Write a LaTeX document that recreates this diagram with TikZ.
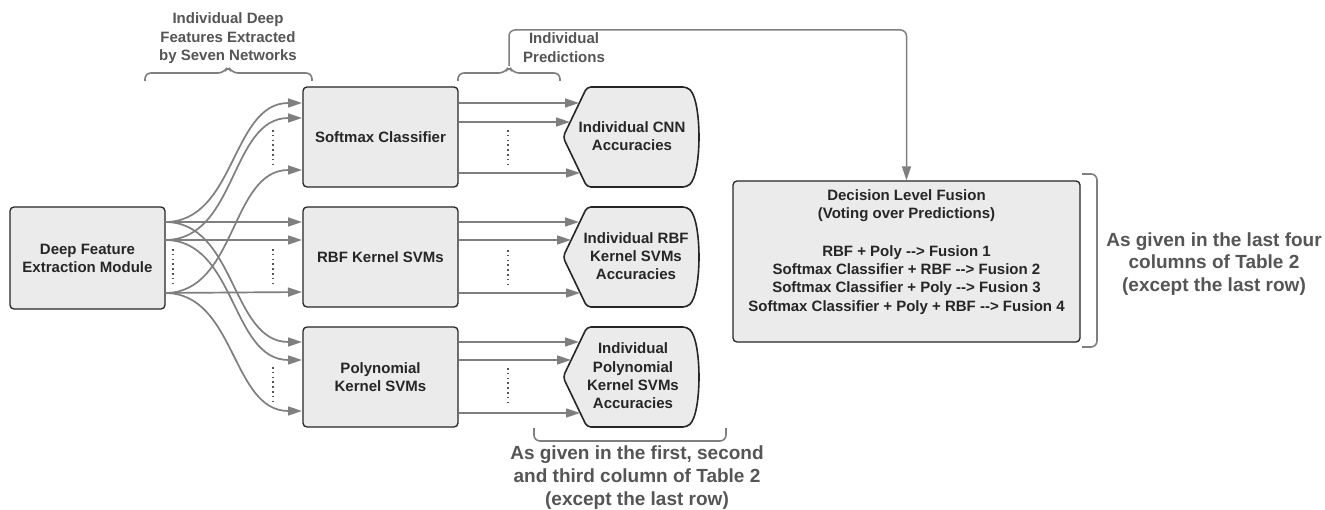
\documentclass[tikz,border=0pt]{standalone}
\usepackage{fontspec}
\setmainfont{Liberation Sans}
\usetikzlibrary{arrows.meta}
\definecolor{boxfill}{HTML}{EBEBEB}
\definecolor{boxline}{HTML}{262626}
\definecolor{arrgray}{HTML}{7F7F7F}
\definecolor{labgray}{HTML}{555555}
\definecolor{dotgray}{HTML}{555555}
\newcommand\arrowtxt{-\kern0pt-\kern0pt>}
\begin{document}
\begin{tikzpicture}[x=1pt,y=-1pt,
  box/.style={draw=boxline, fill=boxfill, line width=1.3pt, rounded corners=4pt,
    minimum width=155pt, minimum height=100pt, align=center, inner sep=0pt,
    font=\bfseries\fontsize{15}{18}\selectfont, text=black!85},
  shapebox/.style={draw=boxline, fill=boxfill, line width=1.6pt, rounded corners=4pt},
  intext/.style={align=center, inner sep=0pt, font=\bfseries\fontsize{15}{18.3}\selectfont, text=black!85},
  arr/.style={draw=arrgray, line width=1.7pt, -{Triangle[length=14pt,width=9pt]}},
  brace/.style={draw=arrgray, line width=1.6pt, rounded corners=6pt},
  dots/.style={draw=dotgray, line width=1.6pt, dash pattern=on 1.6pt off 3.2pt},
  lab/.style={align=center, inner sep=0pt, text=labgray, font=\bfseries\fontsize{15}{18.5}\selectfont},
  labbig/.style={align=center, inner sep=0pt, text=labgray, font=\bfseries\fontsize{19}{22.8}\selectfont}
]
\useasboundingbox (0,0) rectangle (1325,510);
\fill[white] (0,0) rectangle (1325,510);

% main boxes
\node[box, minimum height=102pt] (dfe) at (87.5,258) {Deep Feature\\Extraction Module};
\node[box] (sm) at (380.5,137) {Softmax Classifier};
\node[box] (rbf) at (380.5,257) {RBF Kernel SVMs};
\node[box] (poly) at (380.5,377) {Polynomial\\Kernel SVMs};

% display shapes
\foreach \t in {87,207,327}{
  \draw[shapebox] (587,\t) -- (687,\t) .. controls (702,\t+14) and (702,\t+86) .. (687,\t+100)
     -- (587,\t+100) -- (563,\t+50) -- cycle;
}
\node[intext] (o1) at (632,136) {Individual CNN\\Accuracies};
\node[intext] (o2) at (636,256) {Individual RBF\\Kernel SVMs\\Accuracies};
\node[intext] (o3) at (633,376) {Individual\\Polynomial\\Kernel SVMs\\Accuracies};

% decision box
\node[box, minimum width=347pt, minimum height=161pt] (dlf) at (906.5,261.5) {};
\node[intext] (dlft) at (906.5,252) {Decision Level Fusion\\(Voting over Predictions)\\[19pt]
  RBF + Poly \arrowtxt{} Fusion 1\\Softmax Classifier + RBF \arrowtxt{} Fusion 2\\
  Softmax Classifier + Poly \arrowtxt{} Fusion 3\\Softmax Classifier + Poly + RBF \arrowtxt{} Fusion 4};

% sources
\coordinate (s1) at (165,222);
\coordinate (s2) at (165,240);
\coordinate (s3) at (165,293);
% targets on classifier boxes
\coordinate (a1) at (302,103); \coordinate (a2) at (302,118); \coordinate (a3) at (302,170);
\coordinate (b1) at (302,222); \coordinate (b2) at (302,240); \coordinate (b3) at (302,292);
\coordinate (c1) at (302,342); \coordinate (c2) at (302,360); \coordinate (c3) at (302,411);

\draw[arr] (s1) to[out=0,in=180] (a1);
\draw[arr] (s2) to[out=0,in=180] (a2);
\draw[arr] (s3) to[out=0,in=180] (a3);
\draw[arr] (s1) -- (b1);
\draw[arr] (s2) -- (b2);
\draw[arr] (s3) -- (b3);
\draw[arr] (s1) to[out=0,in=180] (c1);
\draw[arr] (s2) to[out=0,in=180] (c2);
\draw[arr] (s3) to[out=0,in=180] (c3);

% classifier -> outputs
\coordinate (p1) at (579,103); \coordinate (p2) at (570,122); \coordinate (p3) at (580,173);
\coordinate (q1) at (579,222); \coordinate (q2) at (571,240); \coordinate (q3) at (580,293);
\coordinate (r1) at (579,342); \coordinate (r2) at (571,360); \coordinate (r3) at (580,413);
\draw[arr] (sm.east |- p1) -- (p1);
\draw[arr] (sm.east |- p2) -- (p2);
\draw[arr] (sm.east |- p3) -- (p3);
\draw[arr] (rbf.east |- q1) -- (q1);
\draw[arr] (rbf.east |- q2) -- (q2);
\draw[arr] (rbf.east |- q3) -- (q3);
\draw[arr] (poly.east |- r1) -- (r1);
\draw[arr] (poly.east |- r2) -- (r2);
\draw[arr] (poly.east |- r3) -- (r3);

% dotted ellipses
\draw[dots] (173,249) -- (173,283);
\draw[dots] (273,130) -- (273,164);
\draw[dots] (273,249) -- (273,283);
\draw[dots] (273,367) -- (273,401);
\draw[dots] (508,130) -- (508,164);
\draw[dots] (508,250) -- (508,284);
\draw[dots] (508,368) -- (508,402);

% braces
\draw[brace] (145,81) -- (145,73) -- (224,73) -- (228,66) -- (232,73) -- (312,73) -- (312,81);
\draw[brace] (458,81) -- (458,73) -- (505,73) -- (509,66) -- (513,73) -- (560,73) -- (560,81);
\coordinate (tip2) at (509,66);
\coordinate (corner) at (906.5,30);
\draw[arr, line width=1.5pt, rounded corners=6pt] (tip2) |- (corner) -- (dlf.north);
\draw[brace] (534,428) -- (534,441) -- (726,441) -- (726,428);
\draw[brace] (1082,174) -- (1097,174) -- (1097,347) -- (1082,347);

% labels
\node[lab] (l1) at (228,38.5) {Individual Deep\\Features Extracted\\by Seven Networks};
\node[lab] (l2) at (564,47.5) {Individual\\Predictions};
\node[labbig] (l3) at (637,477.5) {As given in the first, second\\and third column of Table 2\\(except the last row)};
\node[labbig] (l4) at (1214,264) {As given in the last four\\columns of Table 2\\(except the last row)};
\end{tikzpicture}
\end{document}
